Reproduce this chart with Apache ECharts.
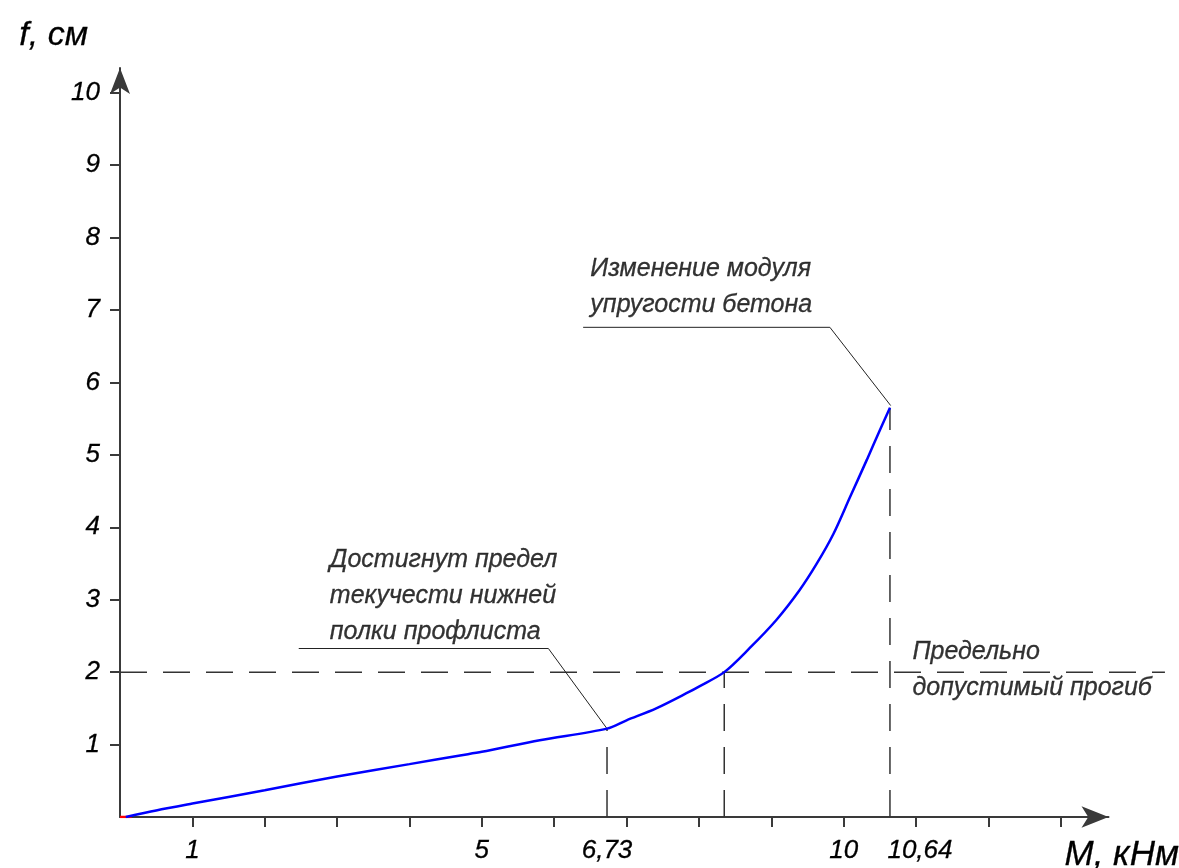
<!DOCTYPE html>
<html>
<head>
<meta charset="utf-8">
<title>f(M)</title>
<script src="https://cdn.jsdelivr.net/npm/echarts@6/dist/echarts.min.js"></script>
<style>
  html, body { margin: 0; padding: 0; background: #fff; }
  #chart { width: 1179px; height: 868px; }
</style>
</head>
<body>
<div id="chart"></div>
<script>
// Bending moment M, kN·m, and deflection f, cm
const moment     = [0.08, 0.5,  1,     2,    3,    4,    4.7,  5,    5.8,  6.73, 7.0,   7.41, 7.87, 8.0,  8.35, 8.7,  9.07, 9.39, 9.63, 9.86, 10.09, 10.32, 10.5, 10.64];
const deflection = [0,    0.09, 0.185, 0.37, 0.56, 0.73, 0.85, 0.90, 1.06, 1.22, 1.335, 1.50, 1.73, 1.80, 2.0,  2.33, 2.72, 3.13, 3.50, 3.91, 4.42,  4.93,  5.34, 5.65];

// Axis ticks and labels
const mTicks  = [1, 2, 3, 4, 5, 6, 7, 8, 9, 10, 11, 12, 13];
const mLabels = [1, 5, 6.73, 10, 10.64];
const fTicks  = [1, 2, 3, 4, 5, 6, 7, 8, 9, 10];

// Axis extents (arrow heads sit past the last tick)
const mMax = 13.66;
const fMax = 10.34;
// The allowable-deflection line runs past the M axis arrow
const mMaxWide = 14.44;

// Key points
const yieldPoint   = [6.73, 1.22];   // yield of the lower flange
const limitF       = 2;              // allowable deflection
const limitM       = 8.35;           // moment at allowable deflection
const modulusPoint = [10.64, 5.65];  // concrete modulus change

// Callout leaders (data coordinates)
const leaderYield   = [[2.47, 2.326], [5.92, 2.326], [6.73, 1.22]];
const leaderModulus = [[6.40, 6.76], [9.81, 6.76], [10.65, 5.68]];

// Callout texts and anchors (top-left of each block)
const noteYield   = ['Достигнут предел', 'текучести нижней', 'полки профлиста'];
const noteModulus = ['Изменение модуля', 'упругости бетона'];
const noteLimit   = ['Предельно', 'допустимый прогиб'];
const noteYieldAt   = [2.90, 3.80];
const noteModulusAt = [6.50, 7.81];
const noteLimitAt   = [10.95, 2.52];

const FONT = "'Liberation Sans', 'DejaVu Sans', sans-serif";
const AXIS_COLOR = '#3a3a3a';
const DASH_COLOR = '#333';
const dash = [27, 16];

// Plot area geometry: both grids share the same pixel scale
const GRID_LEFT = 120, GRID_TOP = 68, GRID_BOTTOM = 51, GRID_RIGHT = 70.5;
const CHART_W = 1179;
const unitPx = (CHART_W - GRID_LEFT - GRID_RIGHT) / mMax;
const wideRight = CHART_W - GRID_LEFT - mMaxWide * unitPx;

const curve = moment.map((m, i) => [m, deflection[i]]);
const fmt = v => String(v).replace('.', ',');

const textStyle = {
  fontFamily: FONT, fontStyle: 'italic', color: '#000',
  textBorderColor: '#000', textBorderWidth: 0.3
};

function noteSeries(name, at, lines) {
  return {
    name, type: 'scatter', symbolSize: 0, silent: true,
    data: [at],
    label: Object.assign({
      show: true, position: [0, 0], align: 'left', verticalAlign: 'top',
      formatter: lines.join('\n'), fontSize: 25, lineHeight: 36
    }, textStyle)
  };
}

function dashedSeries(name, data, axisIndex) {
  return {
    name, type: 'line', data, symbol: 'none', silent: true,
    xAxisIndex: axisIndex || 0, yAxisIndex: axisIndex || 0,
    lineStyle: { color: DASH_COLOR, width: 1.5, type: dash }
  };
}

function leaderSeries(name, data) {
  return {
    name, type: 'line', data, symbol: 'none', silent: true,
    lineStyle: { color: '#222', width: 1 }
  };
}

const chart = echarts.init(document.getElementById('chart'), null, { renderer: 'canvas' });

chart.setOption({
  backgroundColor: '#fff',
  animation: false,
  grid: [
    { left: GRID_LEFT, right: GRID_RIGHT, top: GRID_TOP, bottom: GRID_BOTTOM, containLabel: false, outerBoundsMode: 'none' },
    { left: GRID_LEFT, right: wideRight, top: GRID_TOP, bottom: GRID_BOTTOM, containLabel: false, outerBoundsMode: 'none' }
  ],
  xAxis: [{
    type: 'value', min: 0, max: mMax, gridIndex: 0,
    name: 'M, кНм', nameLocation: 'end', nameGap: -44,
    nameTextStyle: Object.assign({
      fontSize: 35, align: 'left', verticalAlign: 'top', padding: [21, 0, 0, 0]
    }, textStyle),
    splitLine: { show: false },
    axisLine: { onZero: false, symbol: ['none', 'arrow'], symbolSize: [16, 27], lineStyle: { color: AXIS_COLOR, width: 2 } },
    axisTick: { customValues: mTicks, length: 10, lineStyle: { color: AXIS_COLOR, width: 2 } },
    axisLabel: Object.assign({
      customValues: mLabels, margin: 21, fontSize: 26,
      formatter: v => (v === 10.64 ? '{r|' + fmt(v) + '}' : fmt(v)),
      rich: { r: Object.assign({ padding: [0, 0, 0, 60], fontSize: 26 }, textStyle) }
    }, textStyle)
  }, {
    type: 'value', min: 0, max: mMaxWide, gridIndex: 1, show: false
  }],
  yAxis: [{
    type: 'value', min: 0, max: fMax, gridIndex: 0,
    name: 'f, см', nameLocation: 'end', nameGap: 32,
    nameTextStyle: Object.assign({
      fontSize: 34, align: 'right', verticalAlign: 'middle', padding: [0, 32, 0, 0]
    }, textStyle),
    splitLine: { show: false },
    axisLine: { onZero: false, symbol: ['none', 'arrow'], symbolSize: [15, 26], lineStyle: { color: AXIS_COLOR, width: 2 } },
    axisTick: { customValues: fTicks, length: 10, lineStyle: { color: AXIS_COLOR, width: 2 } },
    axisLabel: Object.assign({
      customValues: fTicks, margin: 20, padding: [0, 0, 8, 0], fontSize: 26
    }, textStyle)
  }, {
    type: 'value', min: 0, max: fMax, gridIndex: 1, show: false
  }],
  series: [
    dashedSeries('limit-f', [[0, limitF], [mMaxWide, limitF]], 1),
    dashedSeries('drop-yield', [[yieldPoint[0], 0], yieldPoint]),
    dashedSeries('drop-limit', [[limitM, 0], [limitM, limitF]]),
    dashedSeries('drop-modulus', [[modulusPoint[0], 0], modulusPoint]),
    leaderSeries('leader-yield', leaderYield),
    leaderSeries('leader-modulus', leaderModulus),
    {
      name: 'origin', type: 'line', symbol: 'none', silent: true,
      data: [[0, 0], [0.16, 0]],
      lineStyle: { color: '#ff0000', width: 2.5 }
    },
    {
      name: 'f(M)', type: 'line', symbol: 'none', smooth: 0.3,
      data: curve,
      lineStyle: { color: '#0000ff', width: 2.5 }
    },
    noteSeries('note-yield', noteYieldAt, noteYield),
    noteSeries('note-modulus', noteModulusAt, noteModulus),
    noteSeries('note-limit', noteLimitAt, noteLimit)
  ]
});
</script>
</body>
</html>
